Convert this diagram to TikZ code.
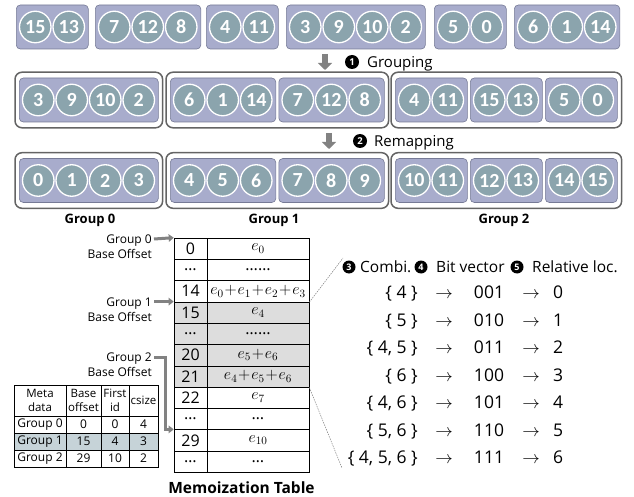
\RequirePackage{fix-cm}
\documentclass[tikz,border=0pt]{standalone}
\usepackage{fontspec}
\setmainfont{Open Sans}
\newfontfamily\numfont{Carlito}
\usetikzlibrary{fit,arrows.meta,positioning}

\definecolor{boxfill}{RGB}{168,172,204}
\definecolor{boxline}{RGB}{118,122,150}
\definecolor{circfill}{RGB}{139,164,173}
\definecolor{outline}{RGB}{100,100,100}
\definecolor{arrowgray}{RGB}{130,130,130}
\definecolor{rowshade}{RGB}{221,221,221}
\definecolor{metashade}{RGB}{198,211,216}

% a plus sign with tight spacing, for the table sums
\newcommand\pl{\mskip1mu{+}\mskip1mu}

\tikzset{
  ibox/.style={rectangle, rounded corners=4pt, fill=boxfill, draw=boxline,
    line width=0.6pt, minimum height=44pt, inner sep=0pt},
  numc/.style={circle, fill=circfill, draw=white, line width=1.3pt,
    minimum size=31.5pt, inner sep=0pt, text=white,
    font=\numfont\bfseries\fontsize{20}{20}\selectfont},
  obox/.style={rectangle, rounded corners=7pt, draw=outline, line width=1.5pt,
    inner xsep=4pt, inner ysep=5.5pt},
  badge/.style={circle, fill=black, text=white, inner sep=0pt, minimum size=14pt,
    font=\bfseries\fontsize{9.5}{9.5}\selectfont},
  steplabel/.style={anchor=base west, inner sep=0pt, font=\fontsize{15}{15}\selectfont},
  grplabel/.style={anchor=base, inner sep=0pt, font=\bfseries\fontsize{13}{13}\selectfont},
  fatarrow/.style={draw=arrowgray, line width=6pt, -{Triangle[width=14pt,length=7pt]}},
  offlabel/.style={anchor=base east, inner sep=0pt, font=\fontsize{12}{12}\selectfont},
  offarrow/.style={draw=arrowgray, line width=3pt, -{Triangle[width=7.5pt,length=5pt]}},
  mcell/.style={rectangle, draw=black, line width=0.6pt, minimum height=21.3pt,
    inner sep=0pt, font=\fontsize{16}{16}\selectfont},
  vcell/.style={mcell, font=\fontsize{16}{16}\selectfont},
  metacell/.style={rectangle, draw=black, line width=0.6pt, inner sep=0pt,
    font=\fontsize{12}{12}\selectfont},
  metahead/.style={metacell, minimum height=31pt, align=center,
    font=\fontsize{11.5}{13.5}\selectfont},
  listtext/.style={anchor=base, inner sep=0pt, font=\fontsize{17.5}{17.5}\selectfont},
  hdrtext/.style={anchor=base west, inner sep=0pt, font=\fontsize{15.5}{15.5}\selectfont},
  dotline/.style={draw=gray, line width=0.5pt, dash pattern=on 1.5pt off 1pt},
  titletext/.style={anchor=base, inner sep=0pt, font=\bfseries\fontsize{15.5}{15.5}\selectfont}
}

% a rounded box holding a row of numbered circles
% #1 name, #2 left x, #3 centre y, #4 number of circles, #5 labels
\newcommand\numbox[5]{%
  \node[ibox, minimum width={33.5*#4+5}, anchor=west] (#1) at (#2,#3) {};
  \foreach \v [count=\k] in {#5} {
    \node[numc] (#1-\k) at ({#2+2.5+33.5*(\k-0.5)},#3) {\v};
  }
}

\begin{document}
\begin{tikzpicture}[x=1pt,y=-1pt]
\useasboundingbox (0,0) rectangle (634,497);

% ---- input clusters
\numbox{a1}{16}{27}{2}{15,13}
\numbox{a2}{95}{27}{3}{7,12,8}
\numbox{a3}{206}{27}{2}{4,11}
\numbox{a4}{286}{27}{4}{3,9,10,2}
\numbox{a5}{434}{27}{2}{5,0}
\numbox{a6}{514}{27}{3}{6,1,14}

% ---- step 1: grouping
\coordinate (d1s) at (325,54);
\coordinate (d1e) at (325,70);
\draw[fatarrow] (d1s) -- (d1e);
\node[badge] (s1) at (352,62) {1};
\node[steplabel] (t1) at (367,67.5) {Grouping};

\numbox{b1}{19}{100}{4}{3,9,10,2}
\numbox{b2}{170}{100}{3}{6,1,14}
\numbox{b3}{278.5}{100}{3}{7,12,8}
\numbox{b4}{395}{100}{2}{4,11}
\numbox{b5}{470}{100}{2}{15,13}
\numbox{b6}{545}{100}{2}{5,0}
\node[obox, fit=(b1)] (gb0) {};
\node[obox, fit=(b2)(b3)] (gb1) {};
\node[obox, fit=(b4)(b6)] (gb2) {};

% ---- step 2: remapping
\coordinate (d2s) at (329,133);
\coordinate (d2e) at (329,149);
\draw[fatarrow] (d2s) -- (d2e);
\node[badge] (s2) at (360,141) {2};
\node[steplabel] (t2) at (374,146.5) {Remapping};

\numbox{c1}{19}{180.5}{4}{0,1,2,3}
\numbox{c2}{170}{180.5}{3}{4,5,6}
\numbox{c3}{278.5}{180.5}{3}{7,8,9}
\numbox{c4}{395}{180.5}{2}{10,11}
\numbox{c5}{470}{180.5}{2}{12,13}
\numbox{c6}{545}{180.5}{2}{14,15}
\node[obox, fit=(c1)] (gc0) {};
\node[obox, fit=(c2)(c3)] (gc1) {};
\node[obox, fit=(c4)(c6)] (gc2) {};

\node[grplabel] (gl0) at (90,223) {Group 0};
\node[grplabel] (gl1) at (274,223) {Group 1};
\node[grplabel] (gl2) at (504,223) {Group 2};

% ---- memoization table
\foreach \kk/\vv/\ff [count=\i from 0] in {
    0/{$e_0$}/white,
    {…}/{……}/white,
    14/{$e_0\pl e_1\pl e_2\pl e_3$}/white,
    15/{$e_4$}/rowshade,
    {…}/{……}/rowshade,
    20/{$e_5\pl e_6$}/rowshade,
    21/{$e_4\pl e_5\pl e_6$}/rowshade,
    22/{$e_7$}/white,
    {…}/{…}/white,
    29/{$e_{10}$}/white,
    {…}/{…}/white} {
  \node[mcell, fill=\ff, minimum width=33pt] (k\i) at (190.5,{238+21.3*(\i+0.5)}) {\kk};
  \node[vcell, fill=\ff, minimum width=102pt] (v\i) at (258,{238+21.3*(\i+0.5)}) {\vv};
}
\node[titletext] (mt) at (241.5,493) {Memoization Table};

% ---- base offsets
\node[offlabel] (o0) at (152,243.5) {Group 0};
\node[offlabel] (o0b) at (152,258.5) {Base Offset};
\node[offlabel] (o1) at (152,306.5) {Group 1};
\node[offlabel] (o1b) at (152,321.5) {Base Offset};
\node[offlabel] (o2) at (152,361.5) {Group 2};
\node[offlabel] (o2b) at (152,376.5) {Base Offset};
\draw[offarrow] ([xshift=2pt]o0.east |- 0,239) -- (k0.north west);
\draw[offarrow] ([xshift=2pt]o1.east |- k3.north west) -- (k3.north west);
\draw[offarrow] ([xshift=2pt]o2.east |- 0,357) -| ([xshift=-8pt]k9.north west) -- (k9.north west);

% ---- meta data table
\node[metahead, minimum width=52pt] (h1) at (40,400.5) {Meta\\data};
\node[metahead, minimum width=35pt] (h2) at (83.5,400.5) {Base\\offset};
\node[metahead, minimum width=28pt] (h3) at (115,400.5) {First\\id};
\node[metahead, minimum width=29pt] (h4) at (143.5,400.5) {csize};
\foreach \ga/\gb/\gc/\gd/\ff [count=\i] in {
    Group 0/0/0/4/white,
    Group 1/15/4/3/metashade,
    Group 2/29/10/2/white} {
  \node[metacell, fill=\ff, minimum width=52pt, minimum height=17pt] (m\i a) at (40,{416+17*(\i-0.5)}) {\ga};
  \node[metacell, fill=\ff, minimum width=35pt, minimum height=17pt] (m\i b) at (83.5,{416+17*(\i-0.5)}) {\gb};
  \node[metacell, fill=\ff, minimum width=28pt, minimum height=17pt] (m\i c) at (115,{416+17*(\i-0.5)}) {\gc};
  \node[metacell, fill=\ff, minimum width=29pt, minimum height=17pt] (m\i d) at (143.5,{416+17*(\i-0.5)}) {\gd};
}

% ---- combinations, bit vectors and relative locations
\node[badge, minimum size=13pt, font=\bfseries\fontsize{9}{9}\selectfont] (b3) at (349,267) {3};
\node[hdrtext] (h3t) at (360,272.5) {Combi.};
\node[badge, minimum size=13pt, font=\bfseries\fontsize{9}{9}\selectfont] (b4) at (421,267) {4};
\node[hdrtext] (h4t) at (436,272.5) {Bit vector};
\node[badge, minimum size=13pt, font=\bfseries\fontsize{9}{9}\selectfont] (b5) at (517,267) {5};
\node[hdrtext] (h5t) at (532,272.5) {Relative loc.};

\foreach \s/\bv/\r [count=\i from 0] in {
    {\{ 4 \}}/001/0,
    {\{ 5 \}}/010/1,
    {\{ 4, 5 \}}/011/2,
    {\{ 6 \}}/100/3,
    {\{ 4, 6 \}}/101/4,
    {\{ 5, 6 \}}/110/5,
    {\{ 4, 5, 6 \}}/111/6} {
  \node[listtext, anchor=base east] (set\i) at (418,{298.5+27.5*\i}) {\s};
  \node[listtext] (ar\i) at (444,{298.5+27.5*\i}) {$\rightarrow$};
  \node[listtext] (bit\i) at (489,{298.5+27.5*\i}) {\bv};
  \node[listtext] (br\i) at (531,{298.5+27.5*\i}) {$\rightarrow$};
  \node[listtext] (res\i) at (558,{298.5+27.5*\i}) {\r};
}

\coordinate (z1) at (343,258);
\coordinate (z2) at (342,468);
\draw[dotline] (v2.south east) -- (z1);
\draw[dotline] (v6.south east) -- (z2);
\end{tikzpicture}
\end{document}
